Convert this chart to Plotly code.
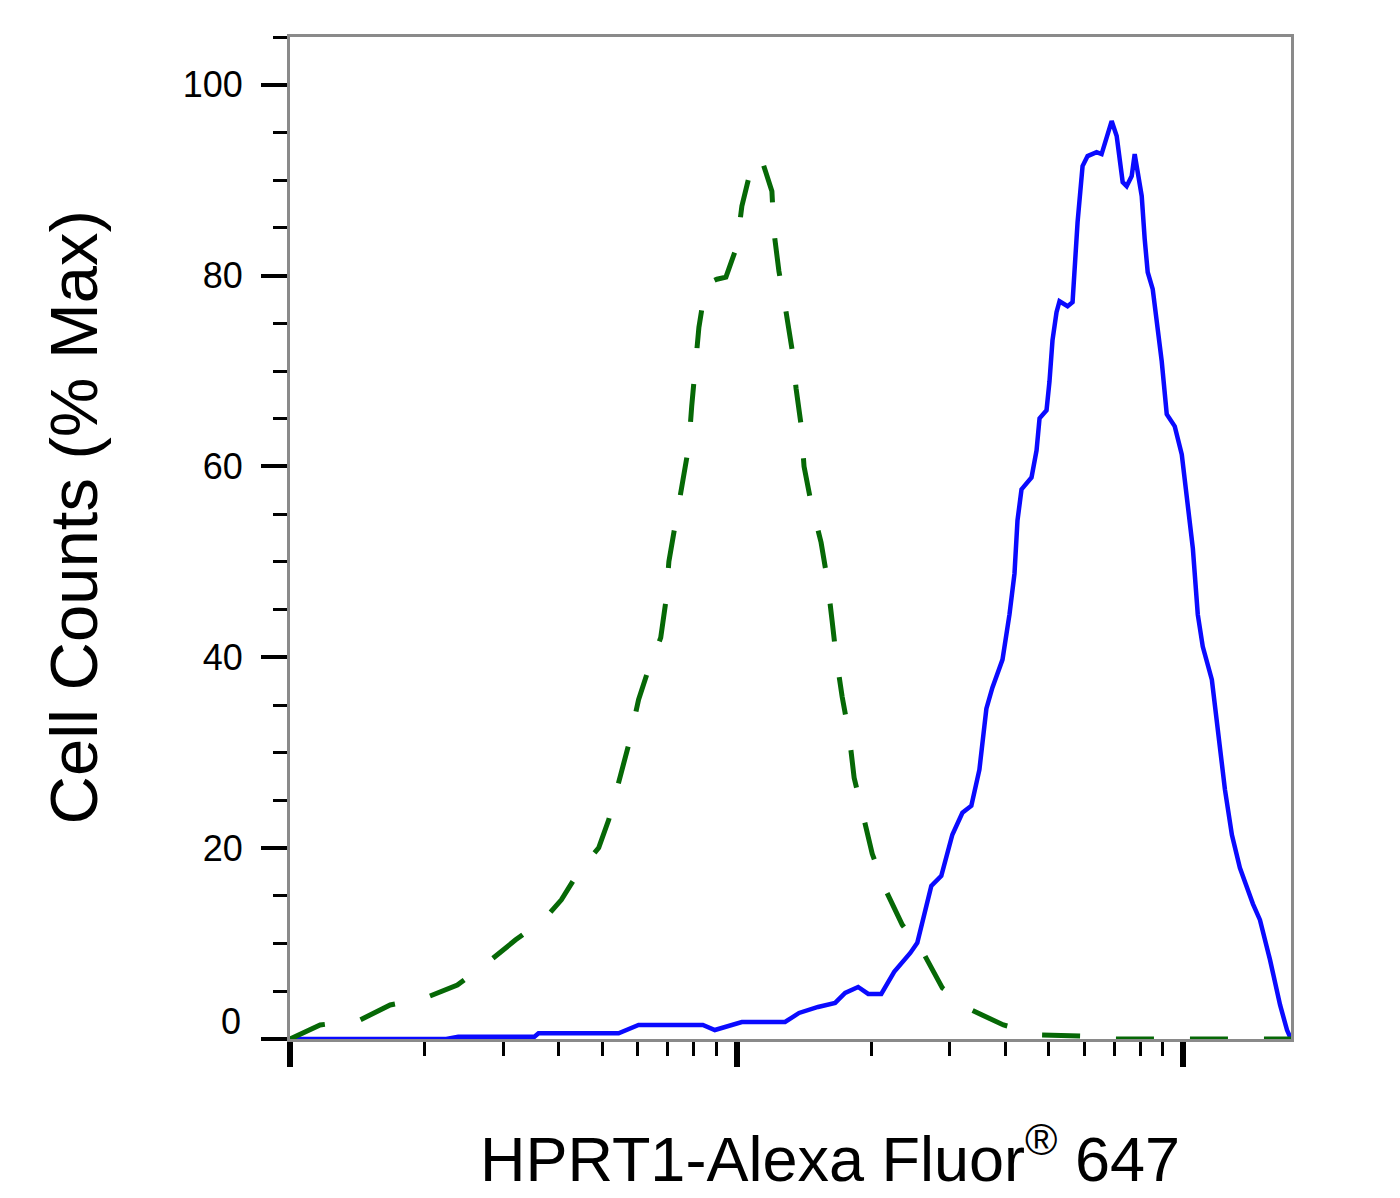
import plotly.graph_objects as go

# isotype control (green dashed) - fluorescence intensity vs % max
control_x = [100, 116.8, 143.6, 167.6, 200.8, 236.9, 278, 320, 373, 405, 443, 491, 517, 544, 573,
             603, 629, 676, 694, 705, 730, 754, 781, 793, 810, 823, 853, 903, 946, 1001, 1027,
             1076, 1133, 1199, 1212, 1243, 1289, 1330, 1358, 1393, 1415, 1467, 1545, 1594, 1635,
             1670, 1722, 1785, 1832, 1909, 2011, 2139, 2348, 2617, 2886, 3352, 3955, 4786, 5887,
             7018, 17410]
control_y = [0, 1.47, 2.0, 3.57, 4.3, 5.66, 8.07, 10.39, 12.69, 14.58, 17.52, 20.04, 22.97, 26.64,
             30.84, 35.56, 38.18, 42.06, 45.84, 50.04, 53.92, 58.11, 62.1, 66.3, 70.39, 74.58,
             79.09, 79.62, 79.83, 83.08, 87.28, 91.16, 92.42, 88.85, 84.55, 80.46, 76.26, 72.28,
             68.18, 64.41, 60.0, 56.23, 52.03, 48.25, 43.85, 40.07, 35.88, 31.89, 27.38, 23.92,
             19.41, 15.94, 11.96, 9.02, 5.35, 3.04, 1.47, 0.42, 0.31, 0, 0]

# HPRT1 stained sample (blue solid)
sample_x = [100, 223.8, 238.1, 352.6, 360, 544, 603, 840, 893.5, 1027, 1283, 1379, 1521, 1661,
            1749, 1870, 1970, 2107, 2252, 2447, 2537, 2644, 2727, 2871, 3039, 3201, 3352, 3494,
            3622, 3736, 3936, 4080, 4187, 4252, 4341, 4571, 4691, 4764, 4939, 5015, 5093, 5200,
            5281, 5505, 5648, 5796, 5947, 6103, 6393, 6560, 6733, 6909, 7090, 7200, 7313, 7465,
            7661, 7780, 7901, 8067, 8192, 8320, 8538, 8761, 8943, 9178, 9565, 9917, 10230, 10500,
            10770, 11050, 11580, 11950, 12390, 12840, 13380, 14310, 14840, 15630, 16460, 17060,
            17410]
sample_y = [0, 0, 0.24, 0.24, 0.6, 0.6, 1.47, 1.47, 0.94, 1.78, 1.78, 2.73, 3.36, 3.78, 4.83,
            5.45, 4.72, 4.72, 7.03, 9.02, 10.07, 13.53, 16.05, 17.1, 21.4, 23.71, 24.44, 28.22,
            34.62, 36.82, 39.76, 44.48, 48.78, 54.34, 57.59, 58.85, 61.68, 65.04, 65.88, 68.92,
            73.22, 76.16, 77.31, 76.79, 77.21, 85.6, 91.47, 92.52, 92.94, 92.73, 94.62, 96.19,
            94.62, 92.52, 89.79, 89.37, 90.42, 92.73, 90.84, 88.33, 83.81, 80.35, 78.57, 74.37,
            71.02, 65.46, 64.2, 61.26, 55.6, 51.4, 44.48, 41.12, 37.66, 32.52, 26.12, 21.4,
            17.94, 14.16, 12.48, 8.29, 3.57, 0.94, 0]

y_ticks = [0, 20, 40, 60, 80, 100]
y_tick_text = ["", "20", "40", "60", "80", "100"]
x_major = [100, 1000, 10000]
x_minor = [200, 300, 400, 500, 600, 700, 800, 900,
           2000, 3000, 4000, 5000, 6000, 7000, 8000, 9000]

x_title = "HPRT1-Alexa Fluor<sup>®</sup> 647"
y_title = "Cell Counts (% Max)"

LABEL_FONT = "Liberation Sans Narrow, Arial Narrow, Liberation Sans, Arial, sans-serif"
TITLE_FONT = "Liberation Sans, Arial, Helvetica, sans-serif"

fig = go.Figure()
fig.add_trace(go.Scatter(x=sample_x, y=sample_y, mode="lines",
                         line=dict(color="#0a0aff", width=4.5), showlegend=False))
fig.add_trace(go.Scatter(x=control_x, y=control_y, mode="lines",
                         line=dict(color="#066806", width=5, dash="38px,36px"),
                         showlegend=False))

fig.update_xaxes(type="log", range=[2, 4.2409],
                 showgrid=False, zeroline=False,
                 showline=True, linecolor="#8a8a8a", linewidth=3, mirror=True,
                 tickmode="array", tickvals=x_major, showticklabels=False,
                 ticks="outside", ticklen=25, tickwidth=6, tickcolor="black",
                 minor=dict(tickmode="array", tickvals=x_minor, ticks="outside",
                            ticklen=14, tickwidth=2.5, tickcolor="black", showgrid=False))

fig.update_yaxes(range=[0, 105],
                 showgrid=False, zeroline=False,
                 showline=True, linecolor="#8a8a8a", linewidth=3, mirror=True,
                 tickmode="array", tickvals=y_ticks, ticktext=y_tick_text,
                 ticks="outside", ticklen=26, tickwidth=4, tickcolor="black",
                 ticklabelstandoff=11,
                 tickfont=dict(family=LABEL_FONT, size=36, color="black"),
                 minor=dict(dtick=5, ticks="outside", ticklen=14, tickwidth=3,
                            tickcolor="black", showgrid=False))

# the 0 label sits above its tick in the original
fig.add_annotation(text="0", xref="paper", yref="y", x=0, y=1.8,
                   xanchor="right", yanchor="middle", xshift=-47, showarrow=False,
                   font=dict(family=LABEL_FONT, size=36, color="black"))

fig.add_annotation(text=y_title, xref="paper", yref="paper", x=-0.2168, y=0.5205,
                   textangle=-90, xanchor="center", yanchor="middle", showarrow=False,
                   font=dict(family=TITLE_FONT, size=67, color="black"))
fig.add_annotation(text=x_title, xref="paper", yref="paper", x=0.5395, y=-0.1148,
                   xanchor="center", yanchor="middle", showarrow=False,
                   font=dict(family=TITLE_FONT, size=63, color="black"))

# page body has an 8px margin, so the figure is offset to land on the window
fig.update_layout(width=1392, height=1190,
                  margin=dict(l=282, r=109, t=29, b=159),
                  plot_bgcolor="white", paper_bgcolor="white")

fig.write_html("out.html")
